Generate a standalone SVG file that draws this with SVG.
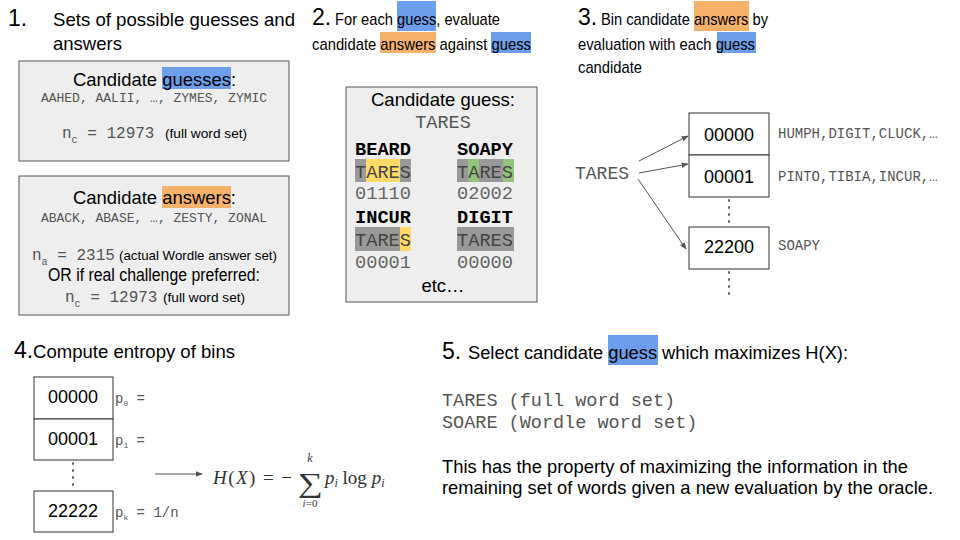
<svg xmlns="http://www.w3.org/2000/svg" width="960" height="540" viewBox="0 0 960 540">
<defs>
<style>
.sans{font-family:"Liberation Sans",Arial,sans-serif;fill:#000}
.num{font-family:"Liberation Sans",Arial,sans-serif;font-size:23px;fill:#000}
.h{font-size:18.5px}
.hc{font-size:17px}
.mono{font-family:"Liberation Mono","Courier New",monospace;fill:#555}
.monob{font-family:"Liberation Mono","Courier New",monospace;font-weight:bold;fill:#000;font-size:18.67px}
.mt{font-family:"Liberation Mono","Courier New",monospace;font-size:18.67px;fill:#444}
.mn{font-family:"Liberation Mono","Courier New",monospace;font-size:18.67px;fill:#666}
.panel{fill:#eeeeee;stroke:#555;stroke-width:1}
.bin{fill:#fff;stroke:#333;stroke-width:1}
.blue{fill:#6d9eeb}
.orange{fill:#f6b26b}
.g{fill:#999}
.y{fill:#ffd966}
.gr{fill:#93c47d}
.dots{stroke:#666;stroke-width:2;stroke-dasharray:1 6;stroke-linecap:round;fill:none}
.conn{stroke:#555;stroke-width:1;fill:none}
.math{font-family:"Liberation Serif","Times New Roman",serif;fill:#333}
</style>
<marker id="arr" viewBox="0 0 10 10" refX="9" refY="5" markerWidth="7" markerHeight="7" orient="auto-start-reverse">
<path d="M0,1 L10,5 L0,9 z" fill="#555"/>
</marker>
</defs>

<g id="step1">
<text class="num" x="8" y="26">1.</text>
<text class="sans h" x="53" y="26" textLength="242" lengthAdjust="spacingAndGlyphs">Sets of possible guesses and</text>
<text class="sans h" x="53" y="50" textLength="69" lengthAdjust="spacingAndGlyphs">answers</text>
</g>

<g id="guesses-box">
<rect class="panel" x="19" y="61" width="270" height="100"/>
<rect class="blue" x="162" y="67" width="69" height="22"/>
<text class="sans" x="73" y="86" font-size="18.4" textLength="163" lengthAdjust="spacingAndGlyphs">Candidate guesses:</text>
<text class="mono" x="154" y="102" font-size="13" text-anchor="middle">AAHED, AALII, …, ZYMES, ZYMIC</text>
<text class="mono" x="62" y="138" font-size="16">n<tspan font-size="10" dy="5">c</tspan><tspan dy="-5"> = 12973</tspan></text>
<text class="sans" x="165" y="138" font-size="13.7">(full word set)</text>
</g>

<g id="answers-box">
<rect class="panel" x="19" y="176" width="270" height="139"/>
<rect class="orange" x="162" y="186" width="69" height="22"/>
<text class="sans" x="73" y="204" font-size="18.4" textLength="163" lengthAdjust="spacingAndGlyphs">Candidate answers:</text>
<text class="mono" x="154" y="222" font-size="13" text-anchor="middle">ABACK, ABASE, …, ZESTY, ZONAL</text>
<text class="mono" x="32" y="260" font-size="16">n<tspan font-size="10" dy="5">a</tspan><tspan dy="-5"> = 2315</tspan></text>
<text class="sans" x="119" y="260" font-size="13.3">(actual Wordle answer set)</text>
<text class="sans" x="48" y="281" font-size="17.5" textLength="212" lengthAdjust="spacingAndGlyphs">OR if real challenge preferred:</text>
<text class="mono" x="65" y="302" font-size="16">n<tspan font-size="10" dy="5">c</tspan><tspan dy="-5"> = 12973</tspan></text>
<text class="sans" x="163" y="302" font-size="13.7">(full word set)</text>
</g>

<g id="step2">
<rect class="blue" x="397" y="1" width="39" height="30"/>
<rect class="orange" x="380" y="32" width="56" height="21"/>
<rect class="blue" x="491" y="32" width="40" height="21"/>
<text class="num" x="312" y="25">2.</text>
<text class="sans hc" x="335" y="25" textLength="165" lengthAdjust="spacingAndGlyphs">For each guess, evaluate</text>
<text class="sans hc" x="312" y="50" textLength="219" lengthAdjust="spacingAndGlyphs">candidate answers against guess</text>
</g>

<g id="evaluation-box">
<rect class="panel" x="346" y="87" width="191" height="215"/>
<text class="sans h" x="443" y="106" text-anchor="middle">Candidate guess:</text>
<text class="mono" x="443" y="128" font-size="18.5" text-anchor="middle">TARES</text>
<text class="monob" x="355" y="155">BEARD</text>
<text class="monob" x="457" y="155">SOAPY</text>
<rect class="g" x="355" y="159" width="11" height="23"/>
<rect class="y" x="366" y="159" width="34" height="23"/>
<rect class="g" x="400" y="159" width="11" height="23"/>
<rect class="g" x="457" y="159" width="11" height="23"/>
<rect class="gr" x="468" y="159" width="11" height="23"/>
<rect class="g" x="479" y="159" width="24" height="23"/>
<rect class="gr" x="503" y="159" width="11" height="23"/>
<text class="mt" x="355" y="178">TARES</text>
<text class="mt" x="457" y="178">TARES</text>
<text class="mn" x="355" y="199">01110</text>
<text class="mn" x="457" y="199">02002</text>
<text class="monob" x="355" y="223">INCUR</text>
<text class="monob" x="457" y="223">DIGIT</text>
<rect class="g" x="355" y="227" width="45" height="24"/>
<rect class="y" x="400" y="227" width="11" height="24"/>
<rect class="g" x="457" y="227" width="57" height="24"/>
<text class="mt" x="355" y="246">TARES</text>
<text class="mt" x="457" y="246">TARES</text>
<text class="mn" x="355" y="268">00001</text>
<text class="mn" x="457" y="268">00000</text>
<text class="sans h" x="443" y="292" text-anchor="middle">etc…</text>
</g>

<g id="step3">
<rect class="orange" x="694" y="1" width="55" height="30"/>
<rect class="blue" x="717" y="32" width="39" height="21"/>
<text class="num" x="578" y="25">3.</text>
<text class="sans hc" x="601" y="25" textLength="167" lengthAdjust="spacingAndGlyphs">Bin candidate answers by</text>
<text class="sans hc" x="578" y="50" textLength="177" lengthAdjust="spacingAndGlyphs">evaluation with each guess</text>
<text class="sans hc" x="578" y="73" textLength="64" lengthAdjust="spacingAndGlyphs">candidate</text>
</g>

<g id="tares-source">
<text class="mono" x="575" y="179" font-size="18">TARES</text>
</g>

<g id="bin-00000">
<rect class="bin" x="689" y="113" width="80" height="42"/>
<text class="sans" x="729" y="141" font-size="18" text-anchor="middle">00000</text>
<text class="mono" x="778" y="138" font-size="14">HUMPH,DIGIT,CLUCK,…</text>
</g>
<g id="bin-00001">
<rect class="bin" x="689" y="155" width="80" height="42"/>
<text class="sans" x="729" y="183" font-size="18" text-anchor="middle">00001</text>
<text class="mono" x="778" y="181" font-size="14">PINTO,TIBIA,INCUR,…</text>
</g>
<g id="bin-22200">
<rect class="bin" x="689" y="227" width="80" height="42"/>
<text class="sans" x="729" y="253" font-size="18" text-anchor="middle">22200</text>
<text class="mono" x="778" y="250" font-size="14">SOAPY</text>
</g>

<g id="step4">
<text class="num" x="14" y="358" font-size="21">4.</text>
<text class="sans h" x="33" y="358" textLength="202" lengthAdjust="spacingAndGlyphs">Compute entropy of bins</text>
</g>
<g id="bin4-00000">
<rect class="bin" x="34" y="377" width="79" height="42"/>
<text class="sans" x="73" y="403" font-size="18" text-anchor="middle">00000</text>
<text class="mono" x="115" y="403" font-size="14">p<tspan font-size="8" dy="3">0</tspan><tspan dy="-3"> =</tspan></text>
</g>
<g id="bin4-00001">
<rect class="bin" x="34" y="419" width="79" height="41"/>
<text class="sans" x="73" y="445" font-size="18" text-anchor="middle">00001</text>
<text class="mono" x="115" y="445" font-size="14">p<tspan font-size="8" dy="3">1</tspan><tspan dy="-3"> =</tspan></text>
</g>
<g id="bin4-22222">
<rect class="bin" x="34" y="491" width="79" height="41"/>
<text class="sans" x="73" y="517" font-size="18" text-anchor="middle">22222</text>
<text class="mono" x="115" y="517" font-size="14">p<tspan font-size="8" dy="3">k</tspan><tspan dy="-3"> = 1/n</tspan></text>
</g>

<g id="formula">
<text class="math" x="213" y="484" font-size="19" textLength="79" lengthAdjust="spacing"><tspan font-style="italic">H</tspan>(<tspan font-style="italic">X</tspan>) = −</text>
<text class="math" x="298" y="492" font-size="27" textLength="25" lengthAdjust="spacingAndGlyphs">∑</text>
<text class="math" x="310" y="462" font-size="12" font-style="italic" text-anchor="middle">k</text>
<text class="math" x="310" y="507" font-size="11" text-anchor="middle"><tspan font-style="italic">i</tspan>=0</text>
<text class="math" x="325" y="484" font-size="19"><tspan font-style="italic">p</tspan><tspan font-size="12" font-style="italic" dy="3">i</tspan><tspan dy="-3"> log </tspan><tspan font-style="italic">p</tspan><tspan font-size="12" font-style="italic" dy="3">i</tspan></text>
</g>

<g id="step5">
<rect class="blue" x="608" y="335" width="50" height="30"/>
<text class="num" x="442" y="359" font-size="25">5.</text>
<text class="sans" x="468" y="359" font-size="18.3">Select candidate guess which maximizes H(X):</text>
<text class="mono" x="442" y="406" font-size="18.5">TARES (full word set)</text>
<text class="mono" x="442" y="428" font-size="18.5">SOARE (Wordle word set)</text>
<text class="sans h" x="442" y="473" textLength="466" lengthAdjust="spacingAndGlyphs">This has the property of maximizing the information in the</text>
<text class="sans h" x="442" y="494" textLength="491" lengthAdjust="spacingAndGlyphs">remaining set of words given a new evaluation by the oracle.</text>
</g>

<g id="connectors">
<line class="conn" x1="639" y1="161" x2="688" y2="136" marker-end="url(#arr)"/>
<line class="conn" x1="639" y1="173" x2="688" y2="164" marker-end="url(#arr)"/>
<line class="conn" x1="638" y1="179" x2="686" y2="249" marker-end="url(#arr)"/>
<line class="conn" x1="155" y1="474" x2="202" y2="474" marker-end="url(#arr)"/>
<line class="dots" x1="729" y1="200" x2="729" y2="226"/>
<line class="dots" x1="729" y1="272" x2="729" y2="298"/>
<line class="dots" x1="73" y1="463" x2="73" y2="490"/>
</g>
</svg>
